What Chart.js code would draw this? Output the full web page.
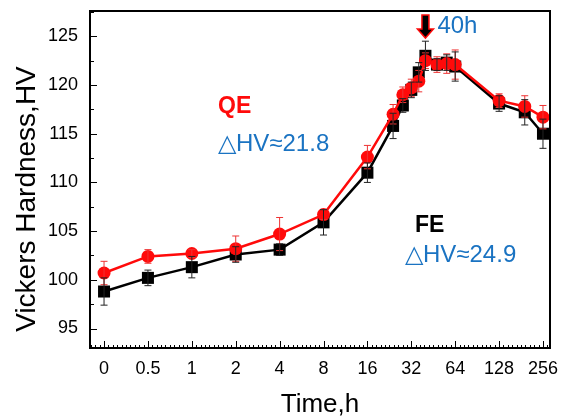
<!DOCTYPE html>
<html>
<head>
<meta charset="utf-8">
<script src="https://cdn.jsdelivr.net/npm/chart.js@4"></script>
<style>
  html, body { margin: 0; padding: 0; background: #fff; }
</style>
</head>
<body>
<canvas id="c" width="562" height="418"></canvas>
<script>
// aging time in hours and hardness readings
const hours = [0, 0.5, 1, 2, 4, 8, 16, 24, 28, 32, 36, 40, 48, 56, 64, 128, 192, 256];
const qeHV  = [100.7, 102.4, 102.7, 103.2, 104.7, 106.7, 112.6, 117.0, 119.0, 119.7, 120.4, 122.5, 122.1, 122.2, 122.1, 118.4, 117.8, 116.7];
const qeErr = [1.2, 0.7, 0.4, 1.3, 1.7, 0.5, 1.2, 1.0, 0.8, 0.9, 1.1, 0.8, 0.8, 1.0, 1.5, 0.7, 1.1, 1.2];
const feHV  = [98.8, 100.2, 101.3, 102.6, 103.1, 105.9, 111.0, 115.8, 117.9, 119.5, 121.3, 123.0, 122.1, 122.3, 121.9, 118.1, 117.2, 115.0];
const feErr = [1.4, 0.8, 1.1, 0.8, 0.6, 1.3, 1.0, 1.3, 0.7, 0.8, 1.0, 1.5, 0.6, 0.8, 1.5, 0.8, 1.3, 1.5];

const xTickLabels = ['0', '0.5', '1', '2', '4', '8', '16', '32', '64', '128', '256'];
const yTicks = [95, 100, 105, 110, 115, 120, 125];

const RED = '#ff0a0a';
const BLUE = '#1a73c2';
const FONT = 'Arial, "Liberation Sans", sans-serif';

// axis is log2 spaced, with 0 h placed one step left of 0.5 h
const pos = h => h === 0 ? 0 : Math.log2(h) + 2;

const toPoints = (vals, errs) => vals.map((v, i) => ({x: pos(hours[i]), y: v, err: errs[i]}));

const errorBars = {
  id: 'errorBars',
  afterDatasetsDraw(chart) {
    const {ctx, scales: {x, y}} = chart;
    ctx.save();
    chart.data.datasets.forEach(ds => {
      ctx.strokeStyle = ds.errColor;
      ctx.lineWidth = 1;
      ds.data.forEach(p => {
        const px = x.getPixelForValue(p.x);
        const top = y.getPixelForValue(p.y + p.err);
        const bot = y.getPixelForValue(p.y - p.err);
        ctx.beginPath();
        ctx.moveTo(px, top); ctx.lineTo(px, bot);
        ctx.moveTo(px - 3.5, top); ctx.lineTo(px + 3.5, top);
        ctx.moveTo(px - 3.5, bot); ctx.lineTo(px + 3.5, bot);
        ctx.stroke();
      });
    });
    ctx.restore();
  }
};

const frame = {
  id: 'frame',
  afterDraw(chart) {
    const {ctx, chartArea: a, scales: {x, y}} = chart;
    ctx.save();
    ctx.strokeStyle = '#000';
    ctx.lineWidth = 1;
    ctx.beginPath();
    // y ticks, inward
    for (let v = 92.5; v <= y.max; v += 2.5) {
      if (v < y.min) continue;
      const py = Math.round(y.getPixelForValue(v)) + 0.5;
      const len = v % 5 === 0 ? 7 : 4;
      ctx.moveTo(a.left, py); ctx.lineTo(a.left + len, py);
    }
    // x ticks, inward, 10 subdivisions per step
    for (let i = -3; i <= 101; i++) {
      const v = i / 10;
      if (v < x.min || v > x.max) continue;
      const px = Math.round(x.getPixelForValue(v)) + 0.5;
      const len = i % 10 === 0 ? 7 : 3;
      ctx.moveTo(px, a.bottom); ctx.lineTo(px, a.bottom - len);
    }
    ctx.stroke();
    ctx.lineWidth = 2;
    ctx.strokeRect(a.left, a.top, a.right - a.left, a.bottom - a.top);

    // arrow marking 40 h
    const ax = x.getPixelForValue(pos(40));
    ctx.beginPath();
    ctx.moveTo(ax - 3.5, a.top + 4);
    ctx.lineTo(ax + 3.5, a.top + 4);
    ctx.lineTo(ax + 3.5, a.top + 18);
    ctx.lineTo(ax + 8, a.top + 18);
    ctx.lineTo(ax, a.top + 27);
    ctx.lineTo(ax - 8, a.top + 18);
    ctx.lineTo(ax - 3.5, a.top + 18);
    ctx.closePath();
    ctx.fillStyle = '#000';
    ctx.fill();
    ctx.strokeStyle = RED;
    ctx.lineWidth = 1.5;
    ctx.stroke();

    ctx.textBaseline = 'alphabetic';
    ctx.textAlign = 'left';
    ctx.fillStyle = BLUE;
    ctx.font = '24px ' + FONT;
    ctx.fillText('40h', ax + 12, a.top + 22);

    ctx.fillStyle = RED;
    ctx.font = 'bold 23px ' + FONT;
    ctx.fillText('QE', 218, 113);
    ctx.fillStyle = BLUE;
    ctx.font = '24px ' + FONT;
    ctx.fillText('\u25B3HV\u224821.8', 218, 151);

    ctx.fillStyle = '#000';
    ctx.font = 'bold 23px ' + FONT;
    ctx.fillText('FE', 415, 232);
    ctx.fillStyle = BLUE;
    ctx.font = '24px ' + FONT;
    ctx.fillText('\u25B3HV\u224824.9', 405, 262);

    // y axis title, sits a little below the plot centre in the original
    ctx.translate(35, 199);
    ctx.rotate(-Math.PI / 2);
    ctx.textAlign = 'center';
    ctx.fillStyle = '#000';
    ctx.font = '28px ' + FONT;
    ctx.fillText('Vickers Hardness,HV', 0, 0);
    ctx.restore();
  }
};

new Chart(document.getElementById('c'), {
  type: 'line',
  data: {
    datasets: [{
      label: 'QE',
      data: toPoints(qeHV, qeErr),
      borderColor: RED,
      backgroundColor: RED,
      errColor: '#e33',
      borderWidth: 2.5,
      pointStyle: 'circle',
      pointRadius: 6.5,
      pointBorderWidth: 0,
      tension: 0
    }, {
      label: 'FE',
      data: toPoints(feHV, feErr),
      borderColor: '#000',
      backgroundColor: '#000',
      errColor: '#222',
      borderWidth: 2.5,
      pointStyle: 'rect',
      pointRadius: 8.5,
      pointBorderWidth: 0,
      tension: 0
    }]
  },
  options: {
    responsive: false,
    animation: false,
    layout: {padding: 0},
    plugins: {legend: {display: false}, tooltip: {enabled: false}},
    scales: {
      x: {
        type: 'linear',
        min: -0.32,
        max: 10.16,
        grid: {display: false, drawTicks: false, tickLength: 0},
        border: {display: false},
        afterBuildTicks: s => { s.ticks = xTickLabels.map((_, i) => ({value: i})); },
        afterFit: s => { s.height = 70; s.paddingLeft = 0; s.paddingRight = 12; },
        ticks: {
          callback: (v, i) => xTickLabels[i],
          color: '#000',
          font: {family: FONT, size: 18},
          padding: 10,
          maxRotation: 0,
          autoSkip: false
        },
        title: {
          display: true,
          text: 'Time,h',
          color: '#000',
          font: {family: FONT, size: 26, lineHeight: 1},
          padding: {top: 0, bottom: 0}
        }
      },
      y: {
        min: 93,
        max: 127.6,
        grid: {display: false, drawTicks: false, tickLength: 0},
        border: {display: false},
        afterBuildTicks: s => { s.ticks = yTicks.map(v => ({value: v})); },
        afterFit: s => { s.width = 90; s.paddingTop = 11; s.paddingBottom = 0; },
        ticks: {
          color: '#000',
          font: {family: FONT, size: 18},
          padding: 12
        }
      }
    }
  },
  plugins: [errorBars, frame]
});
</script>
</body>
</html>
